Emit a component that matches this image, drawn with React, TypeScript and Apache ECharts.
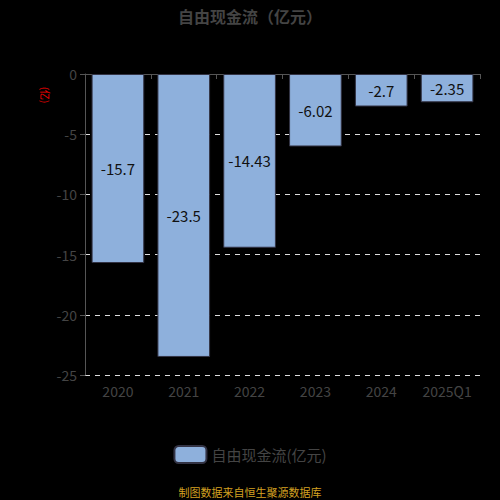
import React, { useEffect, useRef } from "react";
import * as echarts from "echarts";

const categories = ["2020", "2021", "2022", "2023", "2024", "2025Q1"];
const fcfValues = [-15.7, -23.5, -14.43, -6.02, -2.7, -2.35];
const seriesName = "自由现金流(亿元)";

const FONT = "'Noto Sans CJK SC', 'Noto Sans', sans-serif";

const App: React.FC = () => {
    const ref = useRef<HTMLDivElement | null>(null);

    useEffect(() => {
        document.body.style.margin = "0";
        document.body.style.background = "#000";
        if (!ref.current) return;
        const inst = echarts.init(ref.current, undefined, { renderer: "svg" });
        inst.setOption({
            animation: false,
            backgroundColor: "#000000",
            textStyle: { fontFamily: FONT },
            title: {
                text: "自由现金流（亿元）",
                left: "center",
                top: 3,
                textStyle: { color: "#444444", fontSize: 16, fontWeight: "bold", fontFamily: FONT },
            },
            grid: { left: 85, right: 20, top: 74, bottom: 125 },
            legend: {
                bottom: 31,
                left: "center",
                itemWidth: 32,
                itemHeight: 17,
                itemGap: 8,
                textStyle: { color: "#444444", fontSize: 15, fontFamily: FONT },
                data: [seriesName],
            },
            graphic: [
                {
                    type: "text",
                    x: 45,
                    y: 95,
                    rotation: -Math.PI / 2,
                    style: {
                        text: "(亿)",
                        fill: "#ff0000",
                        fontSize: 10,
                        fontFamily: FONT,
                        align: "center",
                        verticalAlign: "middle",
                    },
                },
                {
                    type: "text",
                    left: "center",
                    top: 486,
                    style: {
                        text: "制图数据来自恒生聚源数据库",
                        fill: "#d4a020",
                        fontSize: 11,
                        fontFamily: FONT,
                    },
                },
            ],
            xAxis: [
                {
                    type: "category",
                    data: categories,
                    position: "bottom",
                    axisLine: { onZero: true, lineStyle: { color: "#555555" } },
                    axisTick: { show: true, lineStyle: { color: "#555555" } },
                    axisLabel: { show: false },
                },
                {
                    type: "category",
                    data: categories,
                    position: "bottom",
                    axisLine: { show: false, onZero: false },
                    axisTick: { show: false },
                    axisLabel: { color: "#444444", fontSize: 14, margin: 9, interval: 0, fontFamily: FONT },
                },
            ],
            yAxis: {
                type: "value",
                min: -25,
                max: 0,
                interval: 5,
                axisLine: { show: true, lineStyle: { color: "#555555" } },
                axisTick: { show: true, length: 5, lineStyle: { color: "#555555" } },
                axisLabel: { color: "#444444", fontSize: 14, margin: 8, fontFamily: FONT },
                splitLine: { show: true, lineStyle: { color: "#dddddd", type: [5, 5], width: 1 } },
            },
            series: [
                {
                    name: seriesName,
                    type: "bar",
                    xAxisIndex: 0,
                    data: fcfValues,
                    barCategoryGap: "20%",
                    itemStyle: { color: "#8eb0dc", borderColor: "#333344", borderWidth: 1 },
                    label: {
                        show: true,
                        position: "inside",
                        color: "#111111",
                        fontSize: 15,
                        fontFamily: FONT,
                    },
                },
            ],
        });
        return () => inst.dispose();
    }, []);

    return <div ref={ref} style={{ width: 500, height: 500 }} />;
};

export default App;
